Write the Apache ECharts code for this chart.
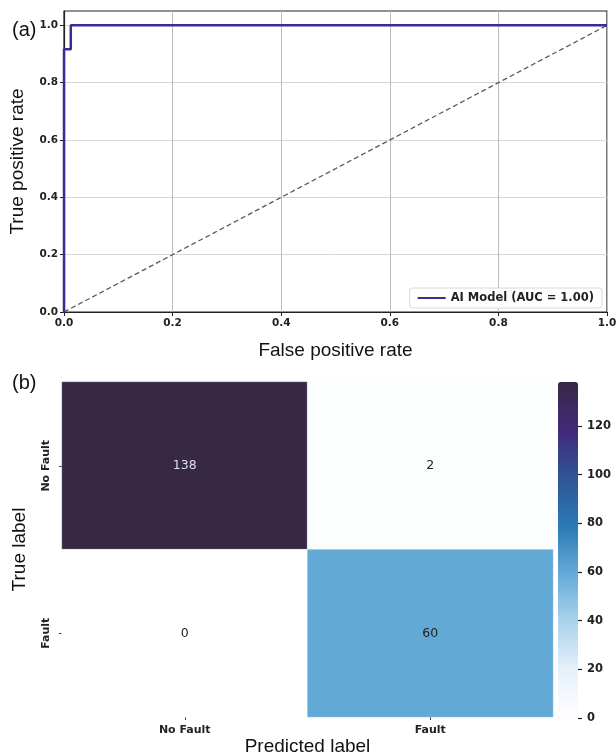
<!DOCTYPE html>
<html>
<head>
<meta charset="utf-8">
<script src="https://cdn.jsdelivr.net/npm/echarts@6/dist/echarts.min.js"></script>
<style>
  html, body { margin: 0; padding: 0; background: #fff; }
  #chart { width: 616px; height: 753px; }
</style>
</head>
<body>
<div id="chart"></div>
<script>
// -- ROC curve (panel a) --
const fprValues = [0, 0, 0.0125, 0.0125, 1];
const tprValues = [0, 0.917, 0.917, 1, 1];
const chanceX = [0, 1];
const chanceY = [0, 1];
const rocTicks = [0, 0.2, 0.4, 0.6, 0.8, 1.0];

// -- Confusion matrix (panel b) --
const classLabels = ['No Fault', 'Fault'];
const matrixValues = [
  [138, 2],  // true No Fault
  [0, 60]    // true Fault
];
const colorbarTicks = [0, 20, 40, 60, 80, 100, 120];

const FONT = 'DejaVu Sans';
const NAME_FONT = 'Liberation Sans';
const TICK_STYLE = { fontFamily: FONT, fontSize: 10.5, color: '#222', fontWeight: 'bold' };

const rocData = fprValues.map((x, i) => [x, tprValues[i]]);
const chanceData = chanceX.map((x, i) => [x, chanceY[i]]);

const cmMax = Math.max(...matrixValues.flat());
const heatData = [];
matrixValues.forEach((row, r) => {
  row.forEach((v, c) => {
    heatData.push({
      value: [c, r, v],
      label: { color: v > cmMax * 0.7 ? '#d9dcf2' : '#222' }
    });
  });
});

const chart = echarts.init(document.getElementById('chart'), null, { renderer: 'canvas' });

chart.setOption({
  animation: false,
  backgroundColor: '#fff',
  title: [
    { text: '(a)', left: 7, top: 15, textStyle: { fontFamily: NAME_FONT, fontSize: 20, fontWeight: 'normal', color: '#111' } },
    { text: '(b)', left: 7, top: 368, textStyle: { fontFamily: NAME_FONT, fontSize: 20, fontWeight: 'normal', color: '#111' } }
  ],
  legend: {
    data: ['AI Model (AUC = 1.00)'],
    right: 14,
    top: 288,
    orient: 'vertical',
    backgroundColor: '#fff',
    borderColor: '#d8d8d8',
    borderWidth: 1,
    borderRadius: 3,
    padding: [4, 8],
    itemWidth: 28,
    itemHeight: 2,
    icon: 'rect',
    textStyle: { fontFamily: FONT, fontSize: 11.5, color: '#222', fontWeight: 'bold' }
  },
  grid: [
    { left: 64, right: 9, top: 11, height: 301, outerBoundsMode: 'none', containLabel: false, show: true, borderColor: '#222', borderWidth: 1.2, backgroundColor: 'transparent' },
    { left: 62, right: 63, top: 382, height: 335, outerBoundsMode: 'none', containLabel: false },
    { left: 558, width: 20, top: 382, height: 336, outerBoundsMode: 'none', containLabel: false }
  ],
  xAxis: [
    {
      gridIndex: 0, type: 'value', min: 0, max: 1, interval: 0.2,
      name: 'False positive rate', nameLocation: 'middle', nameGap: 29,
      nameTextStyle: { fontFamily: NAME_FONT, fontSize: 19, color: '#111' },
      axisLine: { show: true, onZero: false, lineStyle: { color: '#222', width: 1.2 } },
      axisTick: { show: true, length: 4, lineStyle: { color: '#222' } },
      axisLabel: { ...TICK_STYLE, margin: 6, formatter: v => v.toFixed(1) },
      splitLine: { show: true, lineStyle: { color: '#bdbdbd', width: 1 } }
    },
    {
      gridIndex: 1, type: 'category', data: classLabels, position: 'bottom',
      name: 'Predicted label', nameLocation: 'middle', nameGap: 17,
      nameTextStyle: { fontFamily: NAME_FONT, fontSize: 19, color: '#111' },
      axisLine: { show: false },
      axisTick: { show: true, alignWithLabel: true, length: 3, lineStyle: { color: '#444' } },
      axisLabel: { ...TICK_STYLE, fontSize: 11, margin: 8 },
      splitLine: { show: false }
    },
    {
      gridIndex: 2, type: 'value', min: 0, max: 1, show: false
    }
  ],
  yAxis: [
    {
      gridIndex: 0, type: 'value', min: 0, max: 1.05, interval: 0.2,
      name: 'True positive rate', nameLocation: 'middle', nameGap: 37,
      nameTextStyle: { fontFamily: NAME_FONT, fontSize: 19, color: '#111' },
      axisLine: { show: true, onZero: false, lineStyle: { color: '#222', width: 1.2 } },
      axisTick: { show: true, length: 4, customValues: rocTicks, lineStyle: { color: '#222' } },
      axisLabel: { ...TICK_STYLE, margin: 6, customValues: rocTicks, formatter: v => v.toFixed(1) },
      splitLine: { show: true, lineStyle: { color: '#d6d6d6', width: 1 } }
    },
    {
      gridIndex: 1, type: 'category', data: classLabels, inverse: true,
      name: 'True label', nameLocation: 'middle', nameGap: 33,
      nameTextStyle: { fontFamily: NAME_FONT, fontSize: 19, color: '#111' },
      axisLine: { show: false },
      axisTick: { show: true, alignWithLabel: true, length: 3, lineStyle: { color: '#444' } },
      axisLabel: { ...TICK_STYLE, fontSize: 11, rotate: 90, margin: 10 },
      splitLine: { show: false }
    },
    {
      gridIndex: 2, type: 'value', min: 0, max: cmMax, interval: 20, position: 'right',
      axisLine: { show: true, onZero: false, lineStyle: { color: 'rgba(0,0,0,0)' } },
      axisTick: { show: true, inside: false, length: 4, customValues: colorbarTicks, lineStyle: { color: '#222', width: 1.2 } },
      axisLabel: { ...TICK_STYLE, fontSize: 11.5, margin: 9, customValues: colorbarTicks },
      splitLine: { show: false },
      z: 10
    }
  ],
  visualMap: {
    type: 'continuous',
    min: 0,
    max: cmMax,
    seriesIndex: 2,
    calculable: false,
    hoverLink: false,
    left: 558,
    top: 382,
    padding: 0,
    itemWidth: 20,
    itemHeight: 336,
    text: ['', ''],
    showLabel: false,
    z: 1,
    inRange: {
      color: ['#ffffff', '#e6f1fa', '#aad4ec', '#65abd8', '#2a7ab5', '#2f5597', '#43297a', '#372846']
    }
  },
  series: [
    {
      type: 'line',
      xAxisIndex: 0, yAxisIndex: 0,
      data: chanceData,
      showSymbol: false,
      silent: true,
      lineStyle: { color: '#5a5a5a', width: 1.3, type: [5, 3] },
      z: 3
    },
    {
      name: 'AI Model (AUC = 1.00)',
      type: 'line',
      xAxisIndex: 0, yAxisIndex: 0,
      data: rocData,
      showSymbol: false,
      color: '#3a2c94',
      lineStyle: { color: '#3a2c94', width: 2.5 },
      z: 4
    },
    {
      type: 'heatmap',
      xAxisIndex: 1, yAxisIndex: 1,
      data: heatData,
      label: { show: true, fontFamily: FONT, fontSize: 12.5 },
      itemStyle: { borderColor: 'rgba(255,255,255,0.5)', borderWidth: 0.6 },
      emphasis: { disabled: true }
    }
  ]
});
</script>
</body>
</html>
